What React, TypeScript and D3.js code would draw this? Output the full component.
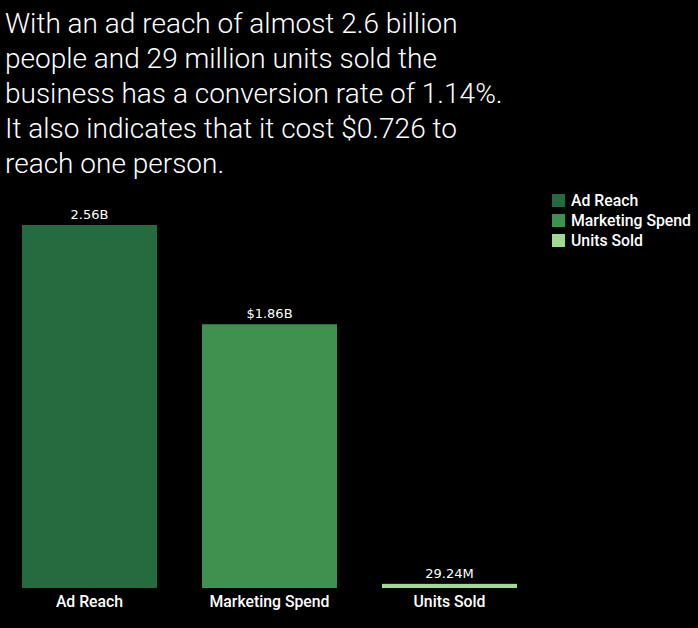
import React from 'react'
import * as d3 from 'd3'

const categories = ['Ad Reach', 'Marketing Spend', 'Units Sold']
const values = [2.56e9, 1.86e9, 29.24e6]
const valueLabels = ['2.56B', '$1.86B', '29.24M']
const colors = ['#256b3f', '#40904f', '#a2d992']
const titleLines = [
  'With an ad reach of almost 2.6 billion',
  'people and 29 million units sold the',
  'business has a conversion rate of 1.14%.',
  'It also indicates that it cost $0.726 to',
  'reach one person.'
]

const W = 698
const H = 628

export default function App() {
  const x = d3.scaleBand<string>()
    .domain(categories)
    .range([22, 517])
    .paddingInner(0.25)
    .paddingOuter(0)

  const y = d3.scaleLinear()
    .domain([0, d3.max(values) as number])
    .range([588, 225])

  const color = d3.scaleOrdinal<string, string>().domain(categories).range(colors)

  return (
    <div style={{ position: 'fixed', left: 0, top: 0, width: W, height: H, background: '#000' }}>
      <svg width={W} height={H} style={{ display: 'block' }}>
        <rect width={W} height={H} fill="#000" />
        {/* title */}
        <text fontFamily="Roboto" fontWeight={300} fontSize={28} fill="#fff">
          {titleLines.map((t, i) => (
            <tspan key={i} x={5} y={33 + i * 35}>{t}</tspan>
          ))}
        </text>

        {/* bars */}
        {categories.map((c, i) => (
          <g key={c}>
            <rect
              x={x(c)}
              y={y(values[i])}
              width={x.bandwidth()}
              height={y(0) - y(values[i])}
              fill={color(c)}
            />
            <text
              x={(x(c) as number) + x.bandwidth() / 2}
              y={y(values[i]) - 6}
              textAnchor="middle"
              fontFamily="DejaVu Sans"
              fontSize={13}
              fill="#fff"
            >
              {valueLabels[i]}
            </text>
            <text
              x={(x(c) as number) + x.bandwidth() / 2}
              y={607}
              textAnchor="middle"
              fontFamily="Roboto"
              fontWeight={500}
              fontSize={15.8}
              fill="#fff"
            >
              {c}
            </text>
          </g>
        ))}

        {/* legend */}
        <g transform="translate(552, 194)">
          {categories.map((c, i) => (
            <g key={c} transform={`translate(0, ${i * 20})`}>
              <rect width={13} height={13} fill={color(c)} />
              <text x={19} y={12} fontFamily="Roboto" fontWeight={500} fontSize={15.8} fill="#fff">{c}</text>
            </g>
          ))}
        </g>
      </svg>
    </div>
  )
}
